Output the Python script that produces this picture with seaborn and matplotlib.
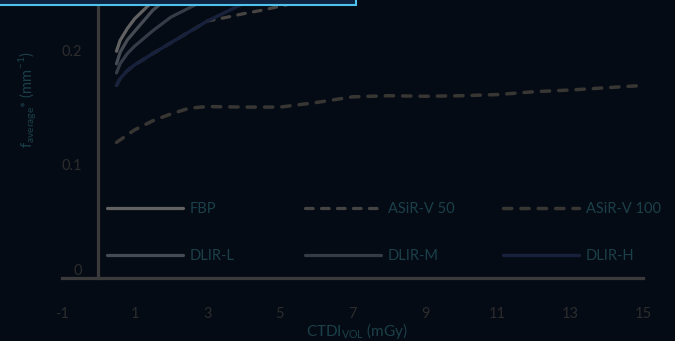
import matplotlib
matplotlib.use("Agg")
import matplotlib.pyplot as plt
import seaborn as sns
from matplotlib.patches import Rectangle

# ---- data: CTDIvol (mGy) vs average NPS frequency (mm^-1) ----
x_solid = [0.5, 0.6, 0.8, 1.0, 1.5, 2.0, 3.0, 4.0, 5.0]
fbp    = [0.199, 0.2085, 0.219, 0.2275, 0.243, 0.254, 0.268, 0.278, 0.285]
dlir_l = [0.188, 0.198, 0.209, 0.2165, 0.235, 0.248, 0.263, 0.273, 0.280]
dlir_m = [0.180, 0.188, 0.197, 0.2035, 0.217, 0.229, 0.245, 0.257, 0.266]
dlir_h = [0.169, 0.175, 0.182, 0.187, 0.197, 0.2065, 0.2255, 0.241, 0.254]

x_asir50 = [0.5, 0.6, 0.8, 1.0, 1.5, 2.0, 3.0, 3.5, 4.0, 4.5, 5.0, 6.0, 7.0, 9.0, 11.0, 13.0, 15.0]
asir50   = [0.169, 0.175, 0.182, 0.187, 0.197, 0.2065, 0.2255, 0.2286, 0.232, 0.235, 0.2385,
            0.245, 0.251, 0.260, 0.268, 0.275, 0.281]

x_asir100 = [0.5, 1.0, 1.5, 2.0, 2.5, 3.0, 4.0, 5.0, 6.0, 7.0, 8.0, 9.0, 10.0,
             11.0, 12.0, 13.0, 14.0, 15.0]
asir100   = [0.119, 0.130, 0.138, 0.144, 0.149, 0.1505, 0.150, 0.150, 0.154, 0.159,
             0.160, 0.1595, 0.160, 0.161, 0.1635, 0.165, 0.167, 0.169]

x_ticks = [-1, 1, 3, 5, 7, 9, 11, 13, 15]
x_tick_labels = ["-1", "1", "3", "5", "7", "9", "11", "13", "15"]
y_ticks = [0, 0.1, 0.2]
y_tick_labels = ["0", "0.1", "0.2"]

# ---- styling ----
BG = "#050b15"
AXIS = "#3a3a3a"
TICK = "#2c2c2c"
TXT = "#1b4049"

sns.set_theme(style="white")
plt.rcParams["font.family"] = ["Lato", "DejaVu Sans"]
plt.rcParams["mathtext.fontset"] = "custom"
plt.rcParams["mathtext.rm"] = "Lato"

fig = plt.figure(figsize=(6.75, 3.41), dpi=100, facecolor=BG)
ax = fig.add_axes([62 / 675, 63 / 341, 581 / 675, 278 / 341])
ax.set_facecolor(BG)

dash = (0, (2.4, 2.6))
series = [
    ("FBP", x_solid, fbp, "#626262", "-", 2.3),
    ("ASiR-V 50", x_asir50, asir50, "#464442", dash, 2.3),
    ("ASiR-V 100", x_asir100, asir100, "#383633", dash, 2.5),
    ("DLIR-L", x_solid, dlir_l, "#464a52", "-", 2.3),
    ("DLIR-M", x_solid, dlir_m, "#363b48", "-", 2.3),
    ("DLIR-H", x_solid, dlir_h, "#17213b", "-", 2.4),
]
handles = {}
for name, xs, ys, col, ls, lw in series:
    sns.lineplot(x=xs, y=ys, ax=ax, color=col, linestyle=ls, linewidth=lw,
                 legend=False, sort=False, dash_capstyle="round",
                 solid_capstyle="round")
    handles[name] = ax.lines[-1]

ax.set_xlim(-1, 15)
ax.set_ylim(0, 0.244)
for s in ("top", "right"):
    ax.spines[s].set_visible(False)
ax.spines["left"].set_position(("data", 0))
for s in ("left", "bottom"):
    ax.spines[s].set_color(AXIS)
    ax.spines[s].set_linewidth(2.3)
ax.grid(False)

ax.set_xticks(x_ticks, x_tick_labels)
ax.set_yticks(y_ticks, y_tick_labels)
ax.tick_params(axis="both", length=0, labelcolor=TICK, labelsize=10.5)
ax.tick_params(axis="x", pad=21)
ax.tick_params(axis="y", pad=12)
# the zero label sits just above the horizontal axis line
ax.yaxis.get_major_ticks()[0].label1.set_verticalalignment("bottom")

ax.set_xlabel(r"CTDI$\mathregular{_{VOL}}$ (mGy)", color=TXT, fontsize=11)
ax.xaxis.set_label_coords(0.508, -0.155)
ax.set_ylabel(r"$\mathregular{f_{average}}$* (mm$^{\mathregular{-1}}$)", color=TXT, fontsize=10.5)
ax.yaxis.set_label_coords(-0.04, 0.64)

# legend laid out as three columns of two rows
fs = 10.5
fs_px = fs * 100 / 72
columns = [(107, ["FBP", "DLIR-L"]), (305, ["ASiR-V 50", "DLIR-M"]),
           (503, ["ASiR-V 100", "DLIR-H"])]
for xpx, names in columns:
    fig.legend([handles[n] for n in names], names,
               loc="center left", bbox_to_anchor=(xpx / 675, (341 - 232.5) / 341),
               bbox_transform=fig.transFigure, frameon=False,
               handlelength=76 / fs_px, handletextpad=7 / fs_px,
               labelspacing=2.27, borderpad=0, borderaxespad=0,
               fontsize=fs, labelcolor=TXT)

# title banner at the top edge
banner = Rectangle((-0.01, (341 - 5) / 341), 0.01 + 356 / 675, 0.05,
                   transform=fig.transFigure, facecolor="#0d2340",
                   edgecolor="#4fc3ec", linewidth=1.5, zorder=10, clip_on=False)
fig.add_artist(banner)

fig.savefig("out.png", dpi=100, facecolor=BG)
